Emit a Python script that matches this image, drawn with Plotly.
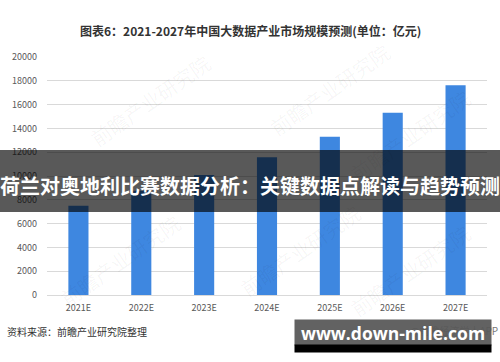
import plotly.graph_objects as go

categories = ["2021E", "2022E", "2023E", "2024E", "2025E", "2026E", "2027E"]
values = [7500, 8770, 10080, 11570, 13300, 15320, 17620]
y_ticks = [0, 2000, 4000, 6000, 8000, 10000, 12000, 14000, 16000, 18000, 20000]

title_text = "图表6：2021-2027年中国大数据产业市场规模预测(单位：亿元)"
banner_text = "荷兰对奥地利比赛数据分析：关键数据点解读与趋势预测"
source_text = "资料来源：前瞻产业研究院整理"
credit_text = "@前瞻经济学人APP"
site_text = "www.down-mile.com"
watermark_text = "前瞻产业研究院"

FONT = "Noto Sans CJK SC, Noto Sans, sans-serif"
W, H = 500, 362
L, R, T, B = 47, 13, 57, 67
PW, PH = W - L - R, H - T - B


def px(x):
    return (x - L) / PW


def py(y):
    return (H - B - y) / PH


fig = go.Figure()
fig.add_trace(go.Bar(
    x=categories, y=values,
    marker=dict(color="#3e87e0", line=dict(width=0)),
    hoverinfo="skip",
))

shapes = [
    dict(type="rect", xref="paper", yref="paper", layer="above",
         x0=px(0), x1=px(W), y0=py(212), y1=py(150),
         fillcolor="rgba(0,0,0,0.65)", line=dict(width=0)),
]

annotations = [
    dict(text=title_text, xref="paper", yref="paper", x=px(250), y=py(31),
         showarrow=False, font=dict(family=FONT, size=12, color="#333333", weight="bold"),
         xanchor="center", yanchor="middle"),
    dict(text=source_text, xref="paper", yref="paper", x=px(5), y=py(331),
         showarrow=False, font=dict(family=FONT, size=10, color="#333333"),
         xanchor="left", yanchor="middle"),
    dict(text=credit_text, xref="paper", yref="paper", x=px(500), y=py(330),
         showarrow=False, font=dict(family=FONT, size=10, color="#777777"),
         xanchor="right", yanchor="middle"),
]

# faint watermarks
for (wx, wy) in [(150, 100), (330, 90), (120, 260), (300, 250), (410, 135), (410, 270)]:
    annotations.append(dict(text=watermark_text, xref="paper", yref="paper",
                            x=px(wx), y=py(wy), showarrow=False, textangle=-35,
                            font=dict(family=FONT, size=20, color="rgba(0,0,0,0.045)"),
                            xanchor="center", yanchor="middle"))

annotations += [
    dict(text=banner_text, xref="paper", yref="paper", x=px(250), y=py(185),
         showarrow=False, font=dict(family=FONT, size=20, color="white", weight="bold"),
         xanchor="center", yanchor="middle"),
    dict(text=site_text, xref="paper", yref="paper", x=px(393), y=py(332.5),
         showarrow=False, font=dict(family="Open Sans, sans-serif", size=17.5, color="white", weight="bold"),
         xanchor="center", yanchor="middle", width=192, height=21,
         bgcolor="rgba(88,88,88,0.94)", borderpad=2),
    dict(text=" ", xref="paper", yref="paper", x=px(393), y=py(348.5),
         showarrow=False, font=dict(size=4),
         xanchor="center", yanchor="middle", width=196, height=7,
         bgcolor="black", borderpad=0),
]

fig.update_layout(
    width=W, height=H,
    margin=dict(l=L, r=R, t=T, b=B),
    paper_bgcolor="white", plot_bgcolor="white",
    showlegend=False,
    bargap=0.68,
    font=dict(family=FONT, size=9, color="#595959"),
    xaxis=dict(showgrid=False, showline=False, ticks="", ticklabelstandoff=6,
               tickfont=dict(size=9, color="#595959")),
    yaxis=dict(range=[0, 20000], tickvals=y_ticks, tickformat="d", showgrid=True,
               gridcolor="#d9d9d9", gridwidth=1, zeroline=True,
               zerolinecolor="#d9d9d9", zerolinewidth=1, showline=False,
               ticks="", ticklabelstandoff=9,
               tickfont=dict(size=9, color="#595959")),
    shapes=shapes,
    annotations=annotations,
)

fig.write_html("out.html")
